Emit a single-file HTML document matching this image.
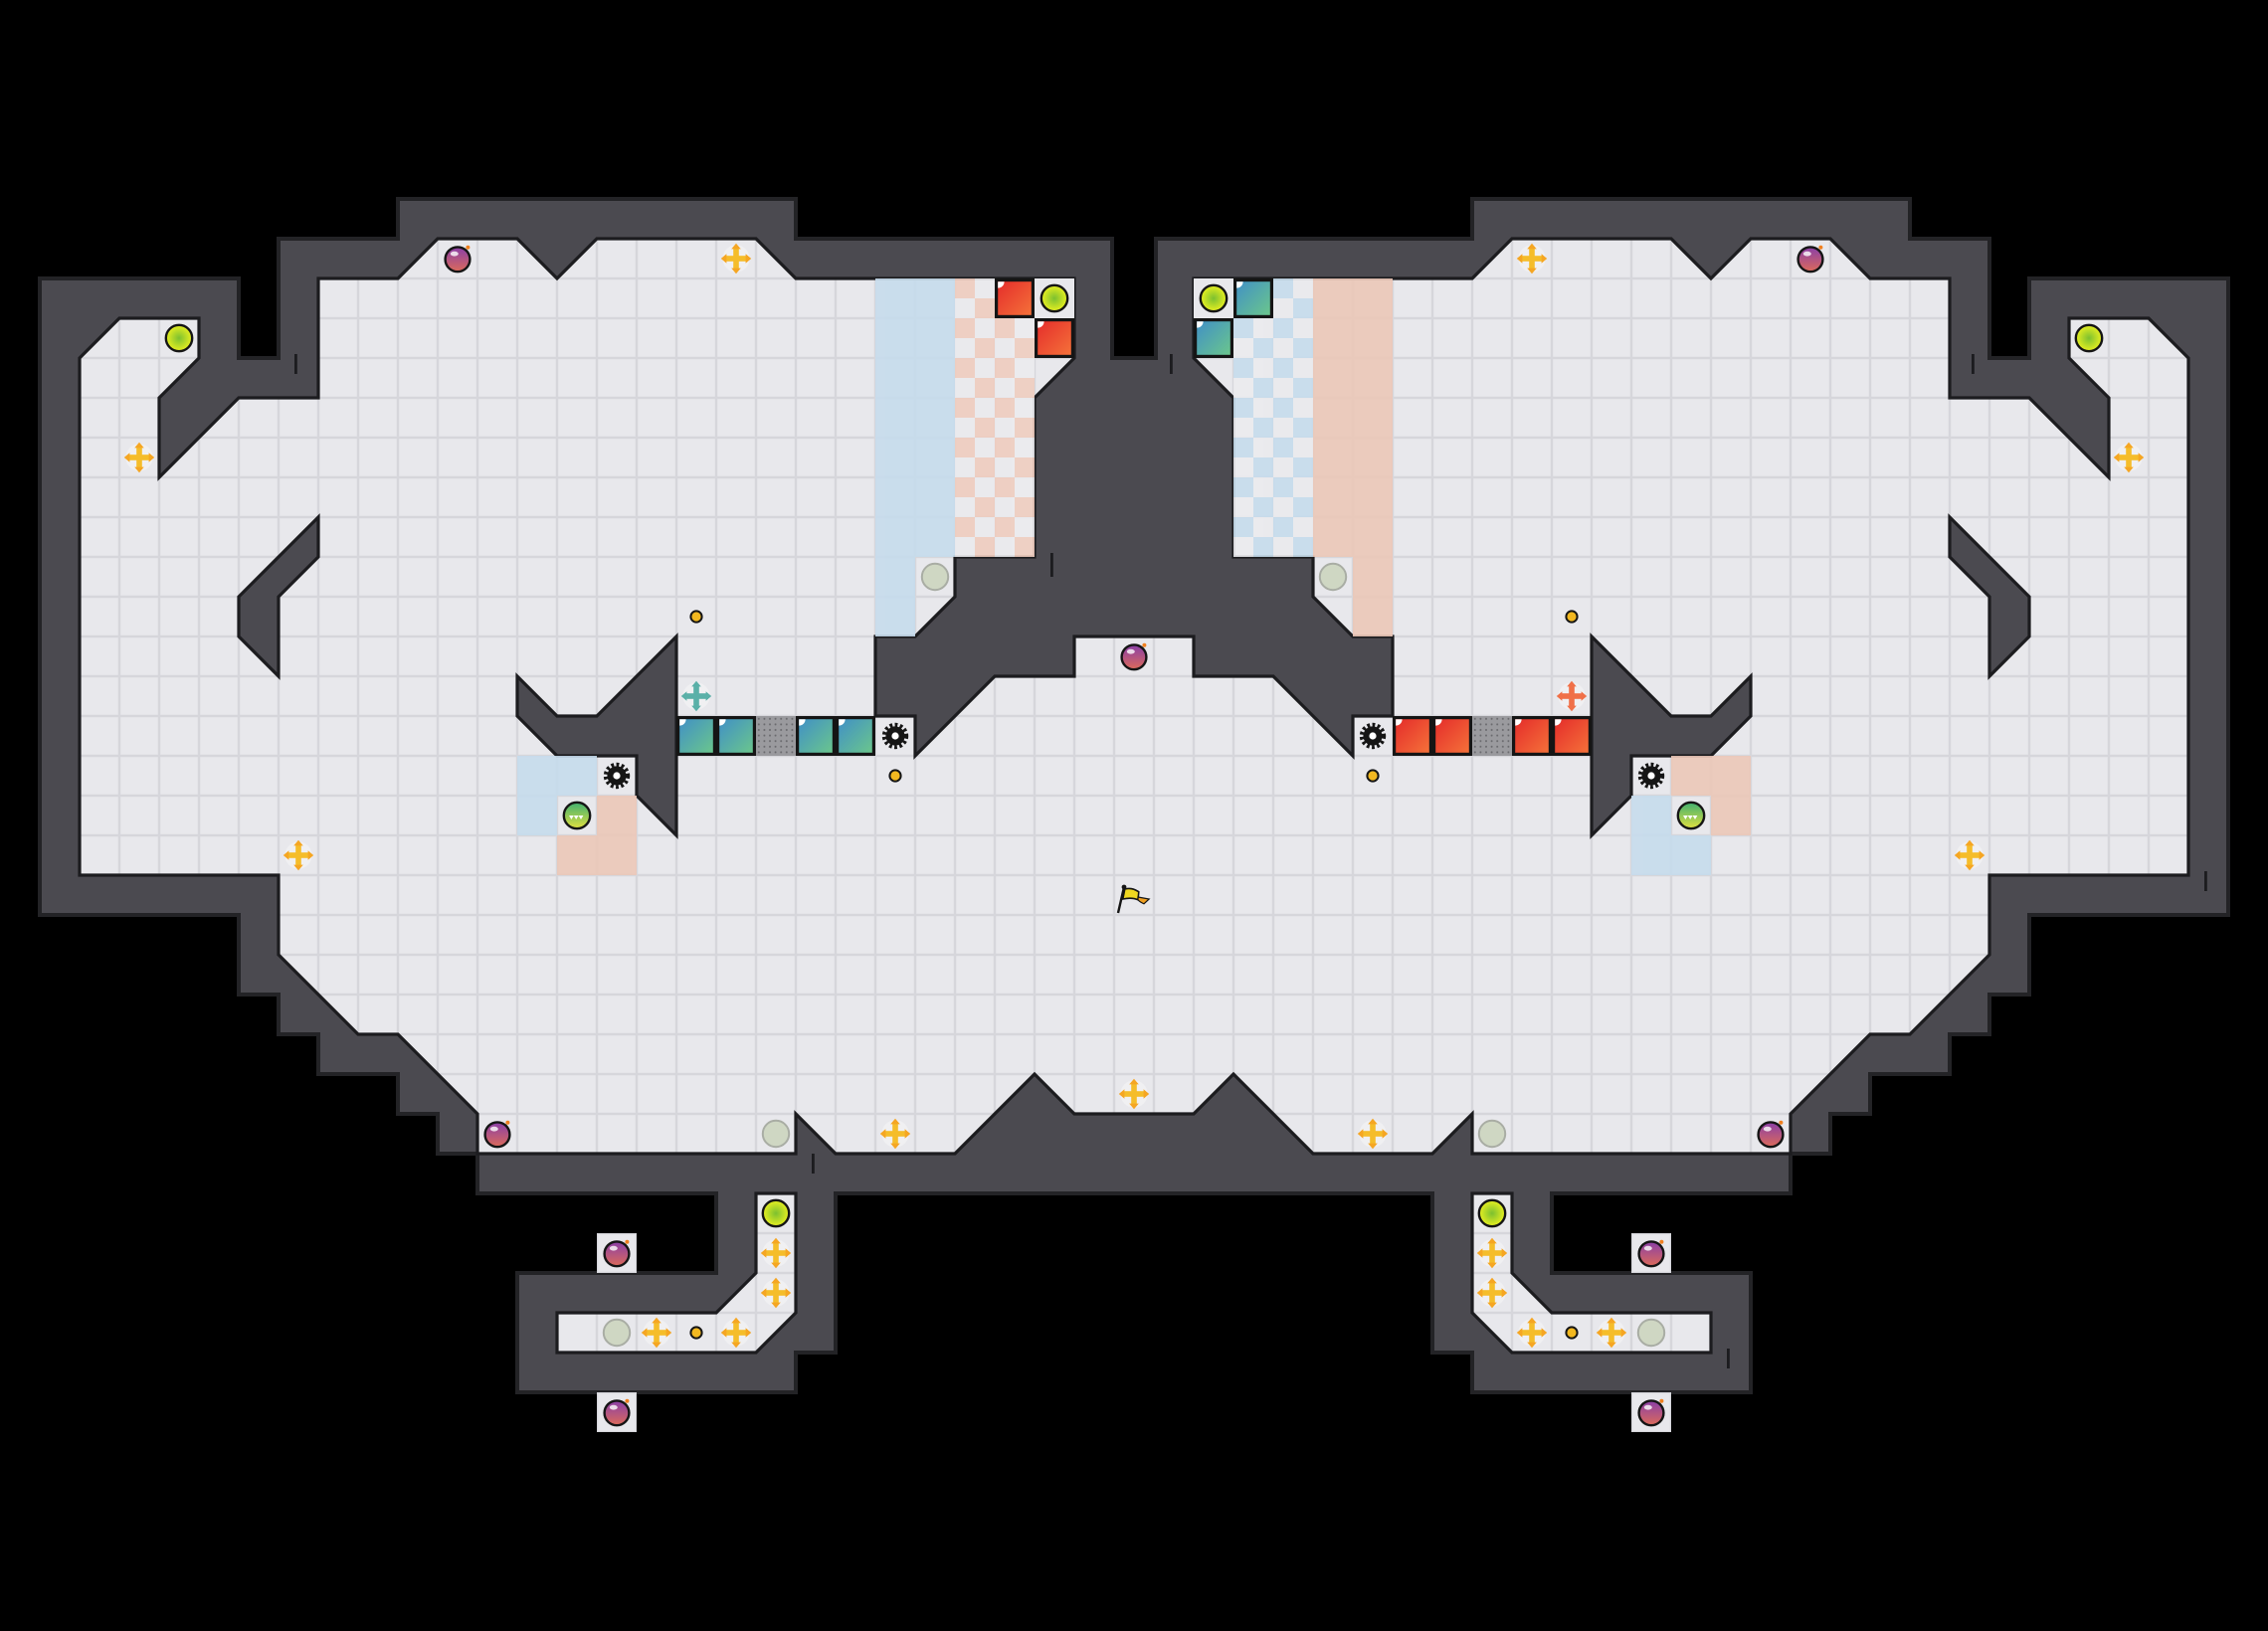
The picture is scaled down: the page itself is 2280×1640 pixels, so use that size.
<!DOCTYPE html>
<html><head><meta charset="utf-8"><style>html,body{margin:0;padding:0;background:#000;}svg{display:block}</style></head>
<body>
<svg width="2280" height="1640" viewBox="0 0 2280 1640" xmlns="http://www.w3.org/2000/svg">
<defs>
<pattern id="tile" patternUnits="userSpaceOnUse" width="1" height="1"><rect width="1" height="1" fill="#d6d6db"/><rect x="0.03" y="0.03" width="0.94" height="0.94" fill="#e8e8ec"/></pattern>
<pattern id="chkP" patternUnits="userSpaceOnUse" width="1" height="1"><rect width="1" height="1" fill="#ebebee"/><rect width="0.5" height="0.5" fill="#efcdbf"/><rect x="0.5" y="0.5" width="0.5" height="0.5" fill="#efcdbf"/></pattern>
<pattern id="chkB" patternUnits="userSpaceOnUse" width="1" height="1"><rect width="1" height="1" fill="#ebebee"/><rect width="0.5" height="0.5" fill="#c6dcec"/><rect x="0.5" y="0.5" width="0.5" height="0.5" fill="#c6dcec"/></pattern>
<linearGradient id="gT" x1="0" y1="0" x2="1" y2="1"><stop offset="0" stop-color="#3f8ec8"/><stop offset="1" stop-color="#6cc88a"/></linearGradient>
<linearGradient id="gR" x1="0" y1="0" x2="1" y2="1"><stop offset="0" stop-color="#e42a2a"/><stop offset="1" stop-color="#f5743a"/></linearGradient>
<linearGradient id="gB" x1="0" y1="0" x2="0" y2="1"><stop offset="0" stop-color="#8a3fa8"/><stop offset="1" stop-color="#dc6a5a"/></linearGradient>
<radialGradient id="gC"><stop offset="0" stop-color="#7cc030"/><stop offset="1" stop-color="#e8f020"/></radialGradient>
<linearGradient id="gG" x1="0" y1="0" x2="0" y2="1"><stop offset="0" stop-color="#40b070"/><stop offset="1" stop-color="#e0e040"/></linearGradient>
<g id="bomb"><circle cx=".5" cy=".52" r=".31" fill="url(#gB)" stroke="#151515" stroke-width=".06"/><ellipse cx=".42" cy=".38" rx=".1" ry=".06" fill="#fff" opacity=".8"/><circle cx=".76" cy=".22" r=".05" fill="#f08020"/></g>
<g id="coin"><circle cx=".5" cy=".5" r=".33" fill="url(#gC)" stroke="#151515" stroke-width=".06"/></g>
<g id="grey"><circle cx=".5" cy=".5" r=".33" fill="#cfd7c3" stroke="#a9ada4" stroke-width=".05"/></g>
<g id="cross"><circle cx=".5" cy=".5" r=".34" fill="#f0f0f2"/><rect x=".43" y=".2" width=".14" height=".6" fill="#f5bd2a"/><rect x=".2" y=".43" width=".6" height=".14" fill="#f5bd2a"/><path d="M.5 .12 L.62 .26 L.38 .26Z M.5 .88 L.62 .74 L.38 .74Z M.12 .5 L.26 .38 L.26 .62Z M.88 .5 L.74 .38 L.74 .62Z" fill="#f5a623"/></g>
<g id="crossT"><circle cx=".5" cy=".5" r=".34" fill="#f0f0f2"/><rect x=".43" y=".2" width=".14" height=".6" fill="#5ab0a8"/><rect x=".2" y=".43" width=".6" height=".14" fill="#5ab0a8"/><path d="M.5 .12 L.62 .26 L.38 .26Z M.5 .88 L.62 .74 L.38 .74Z M.12 .5 L.26 .38 L.26 .62Z M.88 .5 L.74 .38 L.74 .62Z" fill="#5ab0a8"/></g>
<g id="crossO"><circle cx=".5" cy=".5" r=".34" fill="#f0f0f2"/><rect x=".43" y=".2" width=".14" height=".6" fill="#f07048"/><rect x=".2" y=".43" width=".6" height=".14" fill="#f07048"/><path d="M.5 .12 L.62 .26 L.38 .26Z M.5 .88 L.62 .74 L.38 .74Z M.12 .5 L.26 .38 L.26 .62Z M.88 .5 L.74 .38 L.74 .62Z" fill="#f07048"/></g>
<g id="dot"><circle cx=".5" cy=".5" r=".14" fill="#f2b820" stroke="#151515" stroke-width=".05"/></g>
<g id="gear"><circle cx=".5" cy=".5" r=".28" fill="none" stroke="#151515" stroke-width=".1" stroke-dasharray=".07 .06"/><circle cx=".5" cy=".5" r=".24" fill="#151515"/><circle cx=".5" cy=".5" r=".09" fill="#fff"/></g>
<g id="teal"><rect x=".04" y=".04" width=".92" height=".92" fill="url(#gT)" stroke="#151515" stroke-width=".08"/><path d="M.08 .08 h.16 a.16 .16 0 0 1 -.16 .16z" fill="#fff"/></g>
<g id="red"><rect x=".04" y=".04" width=".92" height=".92" fill="url(#gR)" stroke="#151515" stroke-width=".08"/><path d="M.08 .08 h.16 a.16 .16 0 0 1 -.16 .16z" fill="#fff"/></g>
<pattern id="meshp" patternUnits="userSpaceOnUse" width=".14" height=".14"><rect width=".14" height=".14" fill="#9a9a9e"/><circle cx=".07" cy=".07" r=".025" fill="#6a6a6e"/></pattern>
<g id="mesh"><rect x="0" y="0" width="1" height="1" fill="url(#meshp)"/></g>
<g id="green"><circle cx=".5" cy=".5" r=".33" fill="url(#gG)" stroke="#151515" stroke-width=".06"/><path d="M.3 .5 L.36 .6 L.42 .5 L.48 .6 L.54 .5 L.6 .6 L.66 .5Z" fill="#fff"/></g>
</defs>
<rect width="2280" height="1640" fill="#000"/>
<g transform="scale(40)">
<polygon points="1,7 6,7 6,9 7,9 7,6 10,6 10,5 20,5 20,6 27.95,6 27.95,9 29.05,9 29.05,6 37,6 37,5 48,5 48,6 50,6 50,9 51,9 51,7 56,7 56,23 51,23 51,25 50,25 50,26 49,26 49,27 47,27 47,28 46,28 46,29 45,29 45,30 39,30 39,32 44,32 44,35 37,35 37,34 36,34 36,30 21,30 21,34 20,34 20,35 13,35 13,32 18,32 18,30 12,30 12,29 11,29 11,28 10,28 10,27 8,27 8,26 7,26 7,25 6,25 6,23 1,23" fill="#4b4a50" stroke="#232326" stroke-width=".1" stroke-linejoin="miter"/>
<polygon points="2,9 3,8 5,8 5,9 4,10 4,12 6,10 8,10 8,7 10,7 11,6 13,6 14,7 15,6 19,6 20,7 27,7 27,9 26,10 26,14 24,14 24,15 23,16 22,16 22,18 23,18 23,19 25,17 27,17 27,16 30,16 30,17 32,17 34,19 34,18 35,18 35,16 34,16 33,15 33,14 31,14 31,10 30,9 30,7 37,7 38,6 42,6 43,7 44,6 46,6 47,7 49,7 49,10 51,10 53,12 53,10 52,9 52,8 54,8 55,9 55,22 50,22 50,24 48,26 47,26 45,28 45,29 37,29 37,28 36,29 33,29 31,27 30,28 27,28 26,27 24,29 21,29 20,28 20,29 12,29 12,28 10,26 9,26 7,24 7,22 2,22" fill="url(#tile)" stroke="#1c1c1f" stroke-width=".08"/>
<polygon points="19,30 20,30 20,33 19,34 14,34 14,33 18,33 19,32" fill="url(#tile)" stroke="#1c1c1f" stroke-width=".08"/>
<polygon points="38,30 37,30 37,33 38,34 43,34 43,33 39,33 38,32" fill="url(#tile)" stroke="#1c1c1f" stroke-width=".08"/>
<g fill="#1c1c1f">
<rect x="7.4" y="8.9" width=".07" height=".5"/><rect x="49.55" y="8.9" width=".07" height=".5"/>
<rect x="26.4" y="13.9" width=".07" height=".6"/><rect x="29.4" y="8.9" width=".07" height=".5"/>
<rect x="20.4" y="29.0" width=".07" height=".5"/><rect x="55.4" y="21.9" width=".07" height=".5"/>
<rect x="43.4" y="33.9" width=".07" height=".5"/>
</g>
<g fill="#4b4a50" stroke="#1c1c1f" stroke-width=".08">
<polygon points="8,13 6,15 6,16 7,17 7,15 8,14"/>
<polygon points="49,13 51,15 51,16 50,17 50,15 49,14"/>
<polygon points="13,17 14,18 15,18 17,16 17,21 16,20 16,19 14,19 13,18"/>
<polygon points="44,17 43,18 42,18 40,16 40,21 41,20 41,19 43,19 44,18"/>
</g>
<rect x="15" y="31" width="1" height="1" fill="url(#tile)"/>
<rect x="15" y="35" width="1" height="1" fill="url(#tile)"/>
<rect x="41" y="31" width="1" height="1" fill="url(#tile)"/>
<rect x="41" y="35" width="1" height="1" fill="url(#tile)"/>
<g opacity=".9">
<rect x="22" y="7" width="1" height="9" fill="#c6dcec"/>
<rect x="23" y="7" width="1" height="7" fill="#c6dcec"/>
<rect x="24" y="7" width="2" height="7" fill="url(#chkP)"/>
<rect x="34" y="7" width="1" height="9" fill="#ecc8b8"/>
<rect x="33" y="7" width="1" height="7" fill="#ecc8b8"/>
<rect x="31" y="7" width="2" height="7" fill="url(#chkB)"/>
<rect x="13" y="19" width="2" height="1" fill="#c6dcec"/>
<rect x="13" y="20" width="1" height="1" fill="#c6dcec"/>
<rect x="15" y="20" width="1" height="2" fill="#ecc8b8"/>
<rect x="14" y="21" width="1" height="1" fill="#ecc8b8"/>
<rect x="42" y="19" width="2" height="1" fill="#ecc8b8"/>
<rect x="43" y="20" width="1" height="1" fill="#ecc8b8"/>
<rect x="41" y="20" width="1" height="2" fill="#c6dcec"/>
<rect x="42" y="21" width="1" height="1" fill="#c6dcec"/>
</g>
<rect x="30" y="7" width="1" height="1" fill="#e8e8ec"/>
<rect x="26" y="7" width="1" height="1" fill="#e8e8ec"/>
<use href="#bomb" x="11" y="6"/><use href="#bomb" x="28" y="16"/><use href="#bomb" x="12" y="28"/><use href="#bomb" x="15" y="31"/><use href="#bomb" x="15" y="35"/>
<use href="#bomb" x="45" y="6"/><use href="#bomb" x="44" y="28"/><use href="#bomb" x="41" y="31"/><use href="#bomb" x="41" y="35"/>
<use href="#coin" x="4" y="8"/><use href="#coin" x="26" y="7"/><use href="#coin" x="19" y="30"/>
<use href="#coin" x="52" y="8"/><use href="#coin" x="30" y="7"/><use href="#coin" x="37" y="30"/>
<use href="#grey" x="23" y="14"/><use href="#grey" x="19" y="28"/><use href="#grey" x="15" y="33"/>
<use href="#grey" x="33" y="14"/><use href="#grey" x="37" y="28"/><use href="#grey" x="41" y="33"/>
<use href="#cross" x="3" y="11"/><use href="#cross" x="18" y="6"/><use href="#cross" x="7" y="21"/><use href="#cross" x="22" y="28"/><use href="#cross" x="28" y="27"/><use href="#cross" x="19" y="31"/><use href="#cross" x="19" y="32"/><use href="#cross" x="16" y="33"/><use href="#cross" x="18" y="33"/>
<use href="#cross" x="53" y="11"/><use href="#cross" x="38" y="6"/><use href="#cross" x="49" y="21"/><use href="#cross" x="34" y="28"/><use href="#cross" x="37" y="31"/><use href="#cross" x="37" y="32"/><use href="#cross" x="40" y="33"/><use href="#cross" x="38" y="33"/>
<use href="#dot" x="17" y="15"/><use href="#dot" x="22" y="19"/><use href="#dot" x="17" y="33"/>
<use href="#dot" x="39" y="15"/><use href="#dot" x="34" y="19"/><use href="#dot" x="39" y="33"/>
<use href="#gear" x="22" y="18"/><use href="#gear" x="15" y="19"/><use href="#gear" x="34" y="18"/><use href="#gear" x="41" y="19"/>
<use href="#teal" x="17" y="18"/><use href="#teal" x="18" y="18"/><use href="#mesh" x="19" y="18"/><use href="#teal" x="20" y="18"/><use href="#teal" x="21" y="18"/>
<use href="#red" x="35" y="18"/><use href="#red" x="36" y="18"/><use href="#mesh" x="37" y="18"/><use href="#red" x="38" y="18"/><use href="#red" x="39" y="18"/>
<use href="#red" x="25" y="7"/><use href="#red" x="26" y="8"/>
<use href="#teal" x="31" y="7"/><use href="#teal" x="30" y="8"/>
<use href="#green" x="14" y="20"/><use href="#green" x="42" y="20"/>
<use href="#crossT" x="17" y="17"/><use href="#crossO" x="39" y="17"/>
<g transform="translate(28,22)">
<line x1=".1" y1=".95" x2=".25" y2=".3" stroke="#151515" stroke-width=".06"/>
<circle cx=".25" cy=".3" r=".06" fill="#151515"/>
<path d="M.27 .35 Q.45 .3 .62 .42 L.6 .62 Q.45 .55 .22 .6Z" fill="#f0d820" stroke="#151515" stroke-width=".04"/>
<path d="M.6 .55 L.88 .6 L.75 .72 Q.65 .68 .6 .62Z" fill="#f0a020" stroke="#151515" stroke-width=".03"/>
</g>
</g>
</svg>
</body></html>
